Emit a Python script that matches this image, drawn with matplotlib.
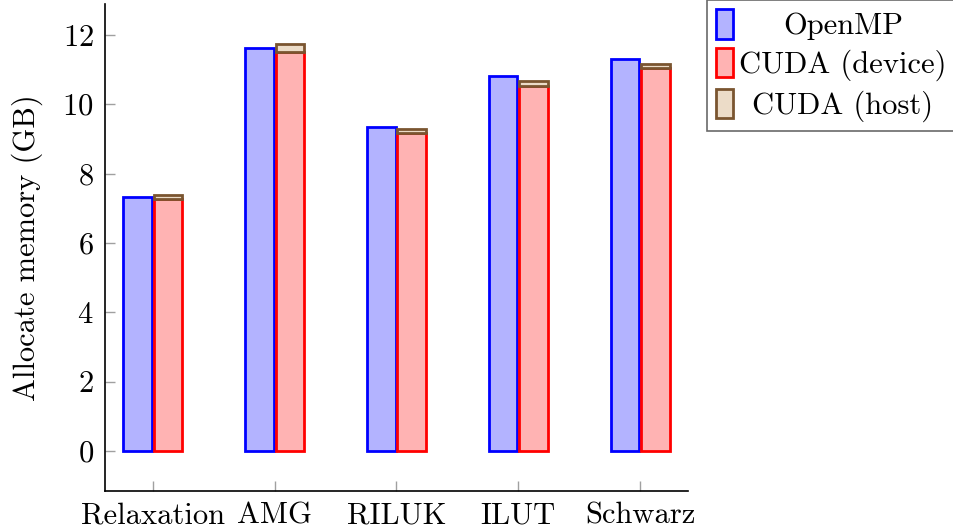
import matplotlib
import matplotlib.pyplot as plt
import numpy as np

matplotlib.use("Agg")

plt.rcParams["font.family"] = "serif"
plt.rcParams["font.serif"] = ["cmr10"]
plt.rcParams["mathtext.fontset"] = "cm"
plt.rcParams["axes.formatter.use_mathtext"] = True

categories = ["Relaxation", "AMG", "RILUK", "ILUT", "Schwarz"]
openmp = [7.33, 11.62, 9.33, 10.82, 11.31]
cuda_device = [7.27, 11.51, 9.17, 10.53, 11.04]
cuda_host = [0.12, 0.22, 0.12, 0.13, 0.11]

FS = 22
x = np.arange(len(categories))
width = 0.235
off = 0.125

fig = plt.figure(figsize=(9.54, 5.29), dpi=100)
ax = fig.add_axes([0.110, 0.0718, 0.6112, 0.9206])

ax.bar(x - off, openmp, width, color="#b3b3ff", edgecolor="blue",
       linewidth=2, label="OpenMP")
ax.bar(x + off, cuda_device, width, color="#ffb3b3", edgecolor="red",
       linewidth=2, label="CUDA (device)")
ax.bar(x + off, cuda_host, width, bottom=cuda_device, color="#ecdcc8",
       edgecolor="#7a5530", linewidth=2, label="CUDA (host)")

ax.set_xlim(-0.394, 4.394)
ax.set_ylim(-1.154, 12.89)
ax.set_xticks(x)
ax.set_xticklabels(categories, fontsize=FS)
ax.set_yticks(np.arange(0, 13, 2))
ax.tick_params(axis="y", labelsize=FS)
ax.tick_params(direction="in", length=7, width=1, color="#a0a0a0", pad=8)
ax.set_ylabel("Allocate memory (GB)", fontsize=FS, labelpad=14)
for side in ["top", "right"]:
    ax.spines[side].set_visible(False)
for side in ["left", "bottom"]:
    ax.spines[side].set_linewidth(1.2)

leg = fig.legend(loc="upper left", bbox_to_anchor=(707 / 954, 1.0),
                 fontsize=FS, frameon=True, fancybox=False, edgecolor="#444444",
                 handlelength=0.55, handleheight=1.1, handletextpad=0.2,
                 labelspacing=0.25, borderpad=0.3, borderaxespad=0.0)
leg.get_frame().set_linewidth(1.2)

# center legend labels in their column, like pgfplots does
fig.canvas.draw()
widths = [t.get_window_extent().width for t in leg.get_texts()]
maxw = max(widths)
for t, w in zip(leg.get_texts(), widths):
    t.set_x((maxw - w) / 2)

plt.savefig("out.png", dpi=100)
